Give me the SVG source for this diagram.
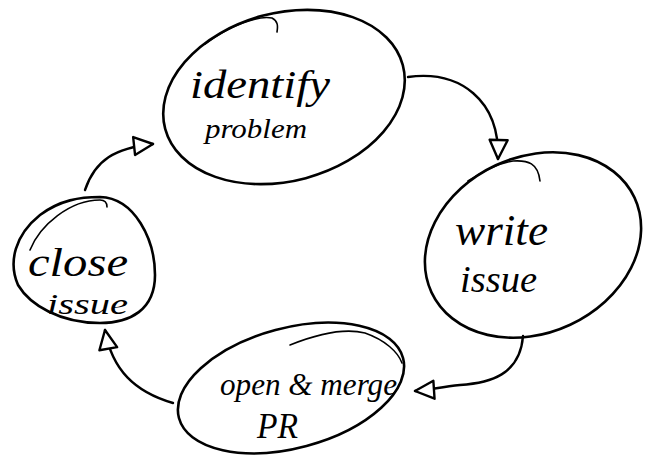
<svg xmlns="http://www.w3.org/2000/svg" width="658" height="459" viewBox="0 0 658 459">
<style>
.shape{fill:none;stroke:#000;stroke-width:2.6;stroke-linecap:round;stroke-linejoin:round}
.extra{fill:none;stroke:#000;stroke-width:1.6;stroke-linecap:round}
.edge{fill:none;stroke:#000;stroke-width:2.4;stroke-linecap:round}
.lbl{font-family:"Liberation Serif","DejaVu Serif",serif;font-style:italic;fill:#000}
</style>
<defs>
<marker id="arr" viewBox="0 0 24 24" markerWidth="24" markerHeight="24" refX="22" refY="12" orient="auto" markerUnits="userSpaceOnUse">
<path d="M3,3 L22,12 L3,21 Z" fill="#fff" stroke="#000" stroke-width="2.4" stroke-linejoin="round"/>
</marker>
</defs>
<rect width="658" height="459" fill="#fff"/>
<g id="connectors">
<path class="edge" d="M408,77 C460,70 500,100 498,159" marker-end="url(#arr)"/>
<path class="edge" d="M523,336 C520,375 490,383 460,385 C440,387 430,390 415,391" marker-end="url(#arr)"/>
<path class="edge" d="M173,403 C135,392 112,370 105,330" marker-end="url(#arr)"/>
<path class="edge" d="M85,190 C95,160 115,148 153,144" marker-end="url(#arr)"/>
</g>
<g id="identify-problem">
<ellipse class="shape" cx="284" cy="97" rx="123" ry="84" transform="rotate(-15 284 97)"/>
<path class="extra" d="M205,44 C230,26 258,15 272,18 C278,21 278,26 277,32"/>
<text class="lbl" x="190" y="98" font-size="40" textLength="140" lengthAdjust="spacingAndGlyphs">identify</text>
<text class="lbl" x="205" y="138" font-size="28" textLength="102" lengthAdjust="spacingAndGlyphs">problem</text>
</g>
<g id="write-issue">
<ellipse class="shape" cx="533" cy="245" rx="112" ry="88" transform="rotate(-25 533 245)"/>
<path class="extra" d="M468,181 C485,170 500,163 513,161 C528,160 538,163 540,181"/>
<text class="lbl" x="455" y="245" font-size="44" textLength="93" lengthAdjust="spacingAndGlyphs">write</text>
<text class="lbl" x="460" y="292" font-size="38" textLength="77" lengthAdjust="spacingAndGlyphs">issue</text>
</g>
<g id="close-issue">
<path class="shape" d="M100,197 C135,198 155,240 155,275 C155,310 130,323 100,323 C60,323 30,305 18,285 C8,262 15,235 40,215 C60,200 80,197 100,197 Z"/>
<path class="extra" d="M30,250 C40,225 70,200 100,200 C105,200 107,203 107,207"/>
<text class="lbl" x="28" y="276" font-size="40" textLength="100" lengthAdjust="spacingAndGlyphs">close</text>
<text class="lbl" x="47" y="314" font-size="30" textLength="81" lengthAdjust="spacingAndGlyphs">issue</text>
</g>
<g id="open-merge-pr">
<ellipse class="shape" cx="291" cy="388" rx="116" ry="60" transform="rotate(-15 291 388)"/>
<path class="extra" d="M290,345 C320,333 345,328 365,333 C385,340 398,352 402,363"/>
<text class="lbl" x="220" y="395" font-size="32" textLength="177" lengthAdjust="spacingAndGlyphs">open &amp; merge</text>
<text class="lbl" x="257" y="438" font-size="36" textLength="41" lengthAdjust="spacingAndGlyphs">PR</text>
</g>
</svg>
